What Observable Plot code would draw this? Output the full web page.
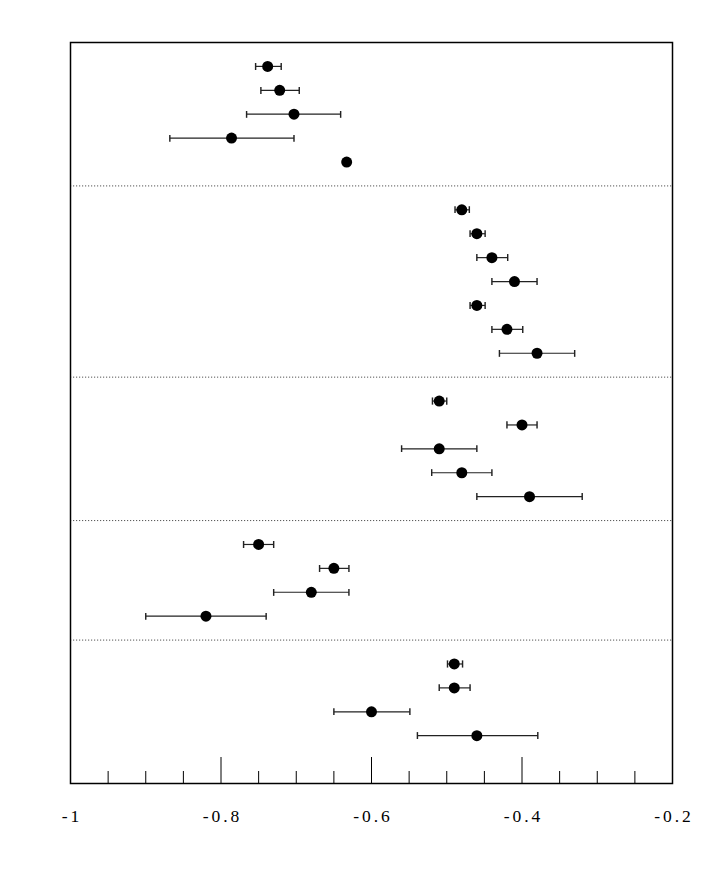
<!DOCTYPE html>
<html>
<head>
<meta charset="utf-8">
<script src="https://cdn.jsdelivr.net/npm/d3@7"></script>
<script src="https://cdn.jsdelivr.net/npm/@observablehq/plot@0.6"></script>
<style>
  html, body { margin: 0; padding: 0; background: #fff; }
  svg { display: block; }
  svg text { font-family: "Liberation Serif", "Times New Roman", serif; letter-spacing: 3px; }
</style>
</head>
<body>
<div id="chart"></div>
<script>
// Row index of each measurement (top to bottom), group separators between groups
const rowPos = [1, 2, 3, 4, 5, 7, 8, 9, 10, 11, 12, 13, 15, 16, 17, 18, 19, 21, 22, 23, 24, 26, 27, 28, 29];
const values = [-0.738, -0.722, -0.703, -0.786, -0.633,
  -0.480, -0.460, -0.440, -0.410, -0.460, -0.420, -0.380,
  -0.510, -0.400, -0.510, -0.480, -0.390,
  -0.750, -0.650, -0.680, -0.820,
  -0.490, -0.490, -0.600, -0.460];
const lows = [-0.754, -0.747, -0.766, -0.868, null,
  -0.489, -0.469, -0.460, -0.440, -0.469, -0.440, -0.430,
  -0.519, -0.420, -0.560, -0.520, -0.460,
  -0.770, -0.669, -0.730, -0.900,
  -0.499, -0.510, -0.650, -0.539];
const highs = [-0.720, -0.696, -0.641, -0.703, null,
  -0.470, -0.449, -0.419, -0.380, -0.449, -0.399, -0.330,
  -0.500, -0.380, -0.460, -0.440, -0.320,
  -0.730, -0.630, -0.630, -0.740,
  -0.479, -0.469, -0.549, -0.379];
const separators = [6, 14, 20, 25];
const majorTicks = [-1, -0.8, -0.6, -0.4, -0.2];
const minorTicks = [-0.95, -0.9, -0.85, -0.75, -0.7, -0.65, -0.55, -0.5, -0.45, -0.35, -0.3, -0.25];
const tickLabels = ["-1", "-0.8", "-0.6", "-0.4", "-0.2"];

const data = rowPos.map((r, i) => ({row: r, v: values[i], lo: lows[i], hi: highs[i]}));
const bars = data.filter(d => d.lo != null && d.hi != null);

const frameH = 872 - 42 - 89;

const chart = Plot.plot({
  width: 708,
  height: 872,
  marginTop: 42,
  marginBottom: 89,
  marginLeft: 70,
  marginRight: 36,
  style: {fontFamily: "'Liberation Serif', 'Times New Roman', serif", fontSize: "17px", background: "#fff"},
  x: {domain: [-1, -0.2], axis: null},
  y: {domain: [0, 31], reverse: true, axis: null},
  marks: [
    Plot.ruleY(separators, {y: d => d, stroke: "#555", strokeWidth: 1, strokeDasharray: "1.2,1.8"}),
    Plot.ruleX(minorTicks, {x: d => d, stroke: "#000", strokeWidth: 1, insetTop: frameH - 12}),
    Plot.ruleX(majorTicks, {x: d => d, stroke: "#000", strokeWidth: 1, insetTop: frameH - 26}),
    Plot.link(bars, {x1: "lo", x2: "hi", y1: "row", y2: "row", stroke: "#222", strokeWidth: 1.2, markerStart: "tick", markerEnd: "tick"}),
    Plot.dot(data, {x: "v", y: "row", r: 5.5, fill: "#000", stroke: null}),
    Plot.frame({stroke: "#000", strokeWidth: 1.5}),
    Plot.text(majorTicks, {x: d => d, text: (d, i) => tickLabels[i], frameAnchor: "bottom", lineAnchor: "top", dy: 26, dx: 1.5, fontSize: 17.5, fontFamily: "Liberation Serif", fill: "#000"})
  ]
});
document.getElementById("chart").appendChild(chart);
</script>
</body>
</html>
